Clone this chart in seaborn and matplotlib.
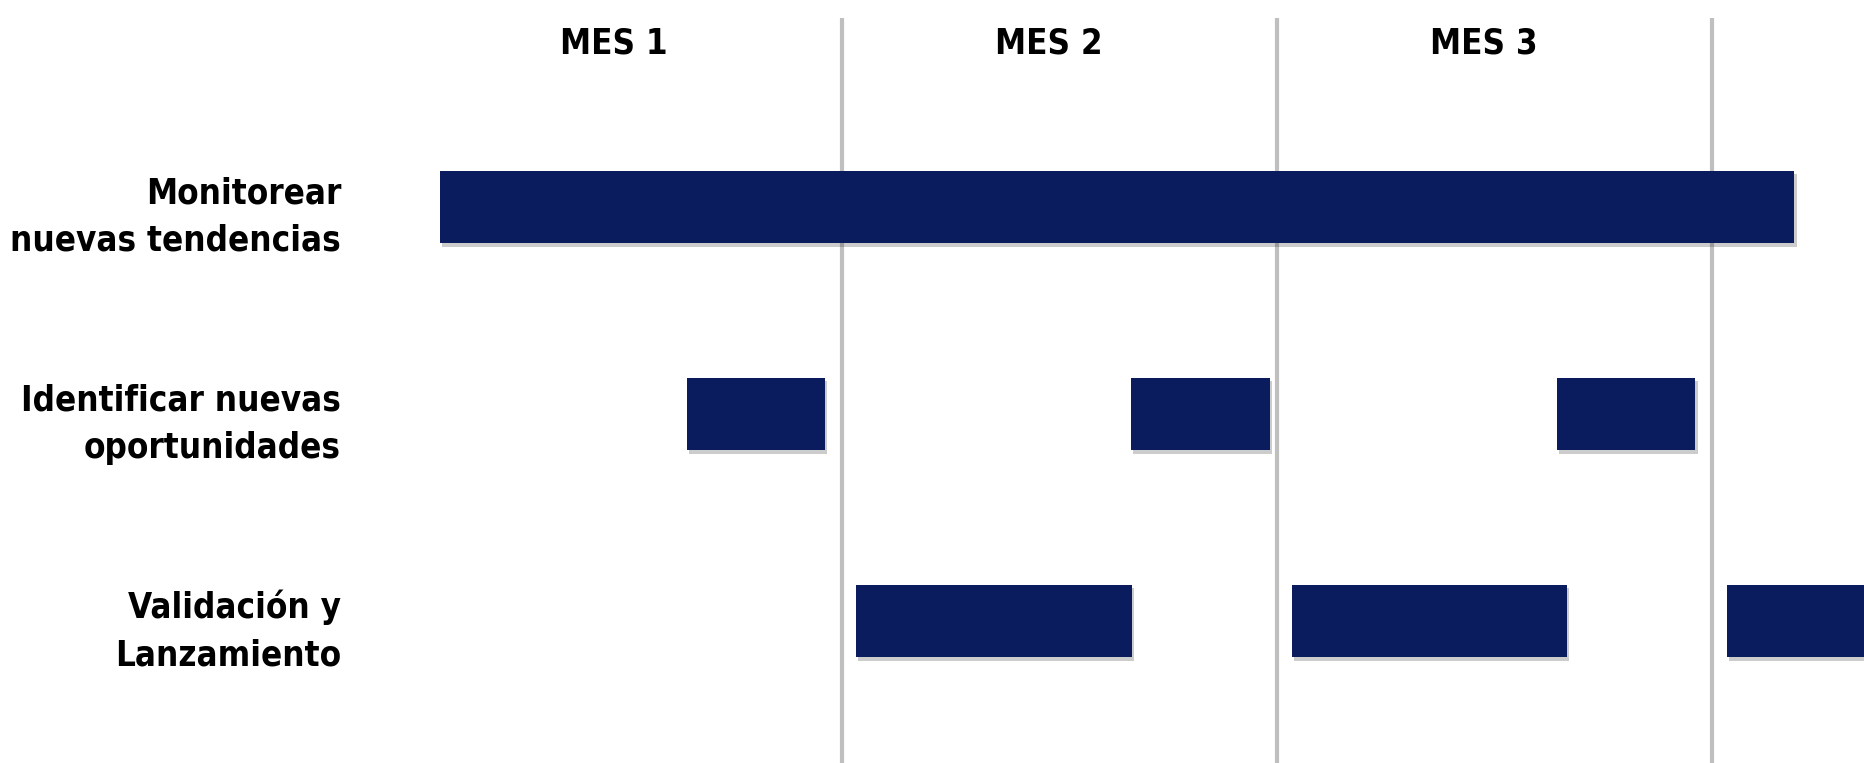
"""
Cronograma (Gantt) de 3 meses
"""
import matplotlib
matplotlib.use("Agg")
import matplotlib.pyplot as plt
import matplotlib.patheffects as pe
import seaborn as sns
import pandas as pd

# Datos (eje x en semanas, 4 semanas por mes)
tareas = ["Monitorear\nnuevas tendencias",
          "Identificar nuevas\noportunidades",
          "Validación y\nLanzamiento"]
meses = ["MES 1", "MES 2", "MES 3"]
inicio_meses = [0, 4, 8]
fin_meses = [4, 8, 12]

tarea_idx = [0, 1, 1, 1, 2, 2, 2]
inicio = [0.30, 2.57, 6.66, 10.58, 4.13, 8.14, 12.14]
fin = [12.76, 3.84, 7.94, 11.85, 6.67, 10.67, 14.67]

df = pd.DataFrame({
    "tarea": [tareas[i] for i in tarea_idx],
    "inicio": inicio,
    "fin": fin,
})
df["duracion"] = df["fin"] - df["inicio"]

sns.set_theme(style="white")
plt.rcParams['font.family'] = ['DejaVu Sans']
plt.rcParams['font.stretch'] = 'condensed'

COLOR_BARRA = "#0b1c5e"

fig = plt.figure(figsize=(18.64, 7.63), dpi=100)
ax = fig.add_axes([380 / 1864, 0, 1 - 380 / 1864, 745 / 763])

# lineas de separacion de meses
for x in fin_meses:
    ax.axvline(x, color="#bfbfbf", linewidth=3, zorder=0)

# barras
sombra = [pe.SimplePatchShadow(offset=(1.5, -2.5), shadow_rgbFace="k", alpha=0.22),
          pe.Normal()]
barras = ax.barh(df["tarea"], df["duracion"], left=df["inicio"], height=0.35,
                 color=COLOR_BARRA, edgecolor="none", linewidth=0, zorder=2)
for b in barras:
    b.set_path_effects(sombra)

# etiquetas de meses
for mes, a, b in zip(meses, inicio_meses, fin_meses):
    ax.text((a + b) / 2 - 0.1, -0.79, mes, ha="center", va="center",
            fontsize=25, fontweight="bold", color="black")

ax.set_xlim(-0.25, 13.4)
ax.set_ylim(2.686, -0.913)
ax.set_xticks([])
ax.set_yticks(range(len(tareas)))
ax.set_yticklabels(tareas, fontsize=25, fontweight="bold", linespacing=1.5,
                   color="black")
ax.tick_params(axis="y", length=0, pad=28)
ax.set_xlabel("")
ax.set_ylabel("")
sns.despine(ax=ax, left=True, bottom=True)

fig.savefig("out.png", dpi=100)
